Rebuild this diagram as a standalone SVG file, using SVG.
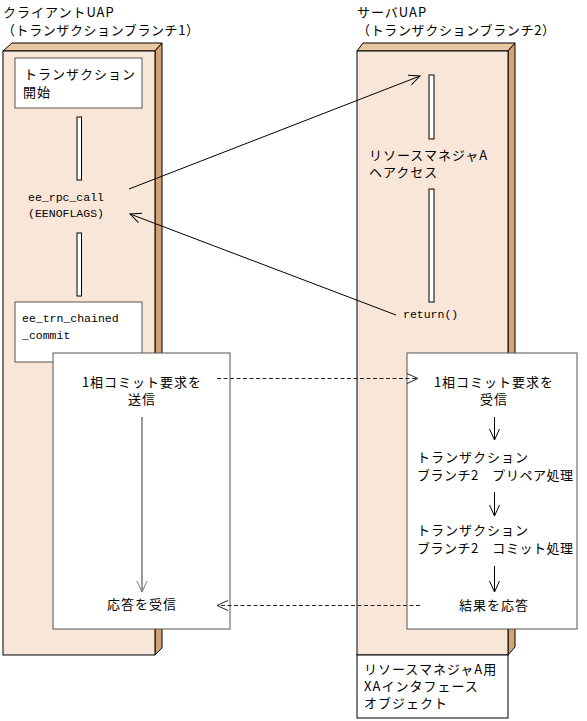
<svg xmlns="http://www.w3.org/2000/svg" width="587" height="721" viewBox="0 0 587 721">
<style>
.front{fill:#F8E7D8;stroke:#000;stroke-width:1}
.top{fill:#EAC7A3;stroke:#000;stroke-width:1}
.side{fill:#D4A373;stroke:#000;stroke-width:1}
.box{fill:#fff;stroke:#555;stroke-width:1}
.bar{fill:#fff;stroke:#000;stroke-width:1}
.jp{font-family:"Noto Sans CJK JP","Noto Sans",sans-serif;font-size:13px;letter-spacing:1px;fill:#000}
.mono{font-family:"Liberation Mono","DejaVu Sans Mono",monospace;font-size:11.5px;fill:#000}
.mid{text-anchor:middle}
.ln{stroke:#000;stroke-width:1;fill:none}
.dash{stroke:#222;stroke-width:1;fill:none;stroke-dasharray:4 2.5}
.grey{stroke:#777;stroke-width:1.5;fill:none}
</style>
<defs>
<marker id="open" viewBox="0 0 12 12" refX="11" refY="6" markerWidth="12" markerHeight="12" markerUnits="userSpaceOnUse" orient="auto">
<path d="M0,1 L11,6 L0,11" fill="none" stroke="#000" stroke-width="1"/>
</marker>
<marker id="openg" viewBox="0 0 12 12" refX="11" refY="6" markerWidth="12" markerHeight="12" markerUnits="userSpaceOnUse" orient="auto">
<path d="M0,1 L11,6 L0,11" fill="none" stroke="#777" stroke-width="1"/>
</marker>
<marker id="opend" viewBox="0 0 12 12" refX="11" refY="6" markerWidth="12" markerHeight="12" markerUnits="userSpaceOnUse" orient="auto">
<path d="M0,1 L11,6 L0,11" fill="none" stroke="#222" stroke-width="1"/>
</marker>
</defs>
<rect width="587" height="721" fill="#fff"/>

<g id="client">
<text class="jp" x="3" y="17">クライアントUAP</text>
<text class="jp" x="2" y="35" textLength="198" lengthAdjust="spacing">（トランザクションブランチ1）</text>
<polygon class="top" points="3,51 12,43 162,43 155,51"/>
<polygon class="side" points="155,51 162,43 162,648 155,655"/>
<rect class="front" x="3" y="51" width="152" height="604"/>
</g>

<g id="server">
<text class="jp" x="357" y="17">サーバUAP</text>
<text class="jp" x="357" y="35" textLength="199" lengthAdjust="spacing">（トランザクションブランチ2）</text>
<polygon class="top" points="357,51 363,43 515,43 508,51"/>
<polygon class="side" points="508,51 515,43 515,647 508,655"/>
<rect class="front" x="357" y="51" width="151" height="604"/>
</g>

<g id="trn-start">
<rect class="box" x="15" y="58" width="127" height="50"/>
<text class="jp" x="24" y="79">トランザクション</text>
<text class="jp" x="23" y="97">開始</text>
</g>

<g id="client-bars">
<rect class="bar" x="77" y="117" width="4.5" height="63"/>
<rect class="bar" x="77" y="233" width="4.5" height="63"/>
</g>

<g id="rpc-call">
<text class="mono mid" x="66" y="201">ee_rpc_call</text>
<text class="mono mid" x="66" y="217">(EENOFLAGS)</text>
</g>

<g id="chained-commit">
<rect class="box" x="15" y="302" width="127" height="60"/>
<text class="mono" x="22" y="322">ee_trn_chained</text>
<text class="mono" x="22" y="339">_commit</text>
</g>

<g id="server-bars">
<rect class="bar" x="429" y="75" width="5" height="64"/>
<rect class="bar" x="429" y="189" width="5" height="113"/>
</g>

<g id="rm-access">
<text class="jp" x="369" y="160">リソースマネジャA</text>
<text class="jp" x="369" y="177">ヘアクセス</text>
</g>

<g id="return">
<text class="mono" x="403" y="318">return()</text>
</g>

<g id="send-box">
<rect class="box" x="53" y="353" width="177" height="276"/>
<text class="jp mid" x="142" y="387">1相コミット要求を</text>
<text class="jp mid" x="142" y="404">送信</text>
<text class="jp mid" x="142" y="609">応答を受信</text>
</g>

<g id="recv-box">
<rect class="box" x="407" y="353" width="170" height="276"/>
<text class="jp mid" x="494" y="387">1相コミット要求を</text>
<text class="jp mid" x="494" y="404">受信</text>
<text class="jp" x="417" y="462">トランザクション</text>
<text class="jp" x="417" y="480" textLength="157" lengthAdjust="spacing">ブランチ2　プリペア処理</text>
<text class="jp" x="417" y="535">トランザクション</text>
<text class="jp" x="417" y="553" textLength="157" lengthAdjust="spacing">ブランチ2　コミット処理</text>
<text class="jp mid" x="494" y="610">結果を応答</text>
</g>

<g id="xa-object">
<rect class="box" x="357" y="655" width="151" height="63" style="stroke:#000"/>
<text class="jp" x="364" y="674">リソースマネジャA用</text>
<text class="jp" x="364" y="691">XAインタフェース</text>
<text class="jp" x="364" y="708">オブジェクト</text>
</g>

<g id="connectors">
<line class="ln" x1="129" y1="189" x2="420" y2="76" marker-end="url(#open)"/>
<line class="ln" x1="396" y1="315" x2="130" y2="214" marker-end="url(#open)"/>
<line class="dash" x1="217" y1="378.5" x2="418" y2="378.5" marker-end="url(#opend)"/>
<line class="dash" x1="420" y1="605.5" x2="217" y2="605.5" marker-end="url(#opend)"/>
<line class="grey" x1="142" y1="417" x2="142" y2="592" marker-end="url(#openg)"/>
<line class="ln" x1="494.5" y1="417" x2="494.5" y2="440" marker-end="url(#open)"/>
<line class="ln" x1="494.5" y1="492" x2="494.5" y2="516" marker-end="url(#open)"/>
<line class="ln" x1="494.5" y1="566" x2="494.5" y2="592" marker-end="url(#open)"/>
</g>
</svg>
